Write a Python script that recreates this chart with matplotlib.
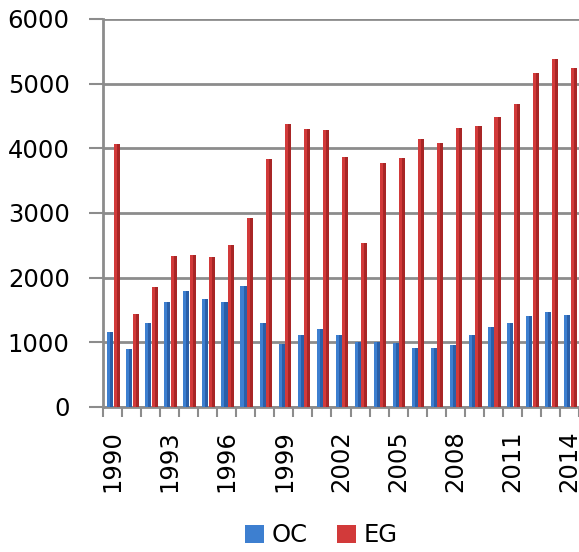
import matplotlib
matplotlib.use("Agg")
import matplotlib.pyplot as plt
import numpy as np
from matplotlib.patches import Patch

years = list(range(1990, 2015))
oc = [1160, 900, 1300, 1630, 1790, 1670, 1620, 1870, 1300, 980, 1120, 1200,
      1115, 1000, 1000, 990, 910, 905, 955, 1115, 1230, 1305, 1410, 1465, 1425]
eg = [4070, 1440, 1850, 2330, 2350, 2320, 2500, 2930, 3840, 4370, 4300, 4280,
      3870, 2530, 3780, 3850, 4140, 4090, 4310, 4340, 4490, 4680, 5170, 5380, 5240]
yticks = [0, 1000, 2000, 3000, 4000, 5000, 6000]

blue_main, blue_dark = "#3d7fd0", "#2a5fa8"
red_main, red_dark = "#d23a3a", "#a82626"
grid_c = "#8c8c8c"

fig = plt.figure(figsize=(5.79, 5.52), dpi=100)
ax = fig.add_axes([103/579, 1-407/552, 1-103/579, (407-19)/552])

x = np.arange(len(years))
w = 0.32
xb = x - 0.12
xr = x + 0.22
ax.bar(xb, oc, width=w, color=blue_main, zorder=3, linewidth=0)
ax.bar(xb + w*0.25, oc, width=w*0.5, color=blue_dark, zorder=3, linewidth=0)
ax.bar(xr, eg, width=w, color=red_main, zorder=3, linewidth=0)
ax.bar(xr + w*0.25, eg, width=w*0.5, color=red_dark, zorder=3, linewidth=0)

ax.set_ylim(0, 6000)
ax.set_xlim(-0.5, len(years) - 0.5)
ax.set_yticks(yticks)
ax.set_yticklabels([str(v) for v in yticks])
ax.yaxis.grid(True, color=grid_c, linewidth=2, zorder=0)

ax.set_xticks(x[::3])
ax.set_xticklabels([str(y) for y in years[::3]], rotation=90)
ax.set_xticks(np.arange(-0.5, len(years), 1), minor=True)
ax.tick_params(axis="x", which="major", length=0, pad=17, labelsize=17.5)
ax.tick_params(axis="x", which="minor", length=7, width=1.5, color=grid_c)
ax.tick_params(axis="y", length=10, width=1.5, color=grid_c, pad=14, labelsize=17.5)

for s in ["top", "right"]:
    ax.spines[s].set_visible(False)
ax.spines["left"].set_color(grid_c)
ax.spines["left"].set_linewidth(2)
ax.spines["bottom"].set_color(grid_c)
ax.spines["bottom"].set_linewidth(2)

handles = [Patch(facecolor=blue_main, label="OC"), Patch(facecolor=red_main, label="EG")]
fig.legend(handles=handles, loc="center", bbox_to_anchor=(0.555, 0.03), ncol=2,
           frameon=False, fontsize=17.5, handlelength=0.8, handleheight=0.8,
           handletextpad=0.3, columnspacing=1.2)

fig.savefig("out.png", dpi=100)
